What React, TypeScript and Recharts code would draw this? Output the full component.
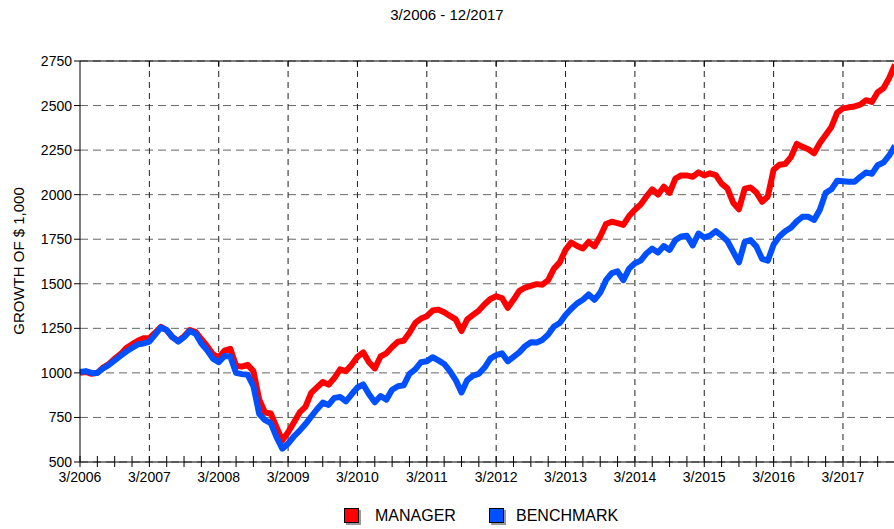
import React from 'react';
import { LineChart, Line, XAxis, YAxis, CartesianGrid, ReferenceLine } from 'recharts';

// monthly values, 3/2006 .. 12/2017
const manager = [
  1000, 1005, 995, 1000, 1030, 1050, 1080, 1105, 1140, 1160,
  1180, 1195, 1195, 1225, 1258, 1240, 1200, 1180, 1205, 1240, 1230, 1190,
  1150, 1105, 1085, 1125, 1135, 1040, 1035, 1045, 1010, 851, 778, 772,
  695, 621, 667, 722, 778, 809, 888, 919, 949, 934, 971, 1020,
  1010, 1045, 1090, 1115, 1060, 1025, 1092, 1110, 1145, 1175, 1180, 1225,
  1280, 1305, 1318, 1350, 1355, 1340, 1320, 1300, 1235, 1300, 1325, 1350,
  1385, 1415, 1430, 1420, 1365, 1410, 1460, 1478, 1488, 1498, 1495, 1520,
  1585, 1620, 1690, 1732, 1712, 1698, 1735, 1710, 1765, 1835, 1848, 1840,
  1830, 1880, 1915, 1945, 1990, 2030, 2000, 2045, 2010, 2090, 2108, 2108,
  2100, 2125, 2108, 2120, 2110, 2062, 2035, 1955, 1918, 2034, 2040, 2013,
  1960, 1990, 2140, 2168, 2172, 2211, 2285, 2268, 2255, 2232, 2290, 2335,
  2380, 2460, 2484, 2490, 2495, 2505, 2530, 2520, 2575, 2597, 2655, 2730,
];

const benchmark = [
  1005, 1010, 1000, 1000, 1025, 1045, 1070, 1095, 1120, 1140,
  1160, 1165, 1175, 1215, 1255, 1240, 1200, 1175, 1200, 1235, 1220, 1165,
  1127, 1080, 1060, 1095, 1092, 1000, 993, 990, 925, 770, 735, 718,
  640, 575, 603, 643, 676, 713, 754, 796, 833, 820, 860, 865,
  840, 880, 918, 935, 880, 835, 870, 850, 905, 925, 930, 995,
  1020, 1060, 1065, 1088, 1070, 1050, 1010, 960, 890, 960, 985, 995,
  1030, 1080, 1100, 1110, 1065, 1090, 1115, 1150, 1172, 1170, 1185, 1215,
  1260, 1280, 1325, 1360, 1390, 1410, 1440, 1410, 1450, 1520, 1560, 1570,
  1520, 1585, 1615, 1630, 1670, 1697, 1675, 1712, 1690, 1745, 1765, 1770,
  1715, 1782, 1760, 1770, 1795, 1770, 1740, 1680, 1620, 1735, 1745, 1710,
  1640, 1630, 1720, 1765, 1795, 1815, 1850, 1876, 1876, 1858, 1915, 2010,
  2030, 2078, 2075, 2072, 2072, 2100, 2125, 2117, 2165, 2180, 2220, 2275,
];

const yearLabels = [
  '3/2006', '3/2007', '3/2008', '3/2009', '3/2010', '3/2011',
  '3/2012', '3/2013', '3/2014', '3/2015', '3/2016', '3/2017',
];

const yTicks = [500, 750, 1000, 1250, 1500, 1750, 2000, 2250, 2500, 2750];

const data = manager.map((v, i) => ({ i, manager: v, benchmark: benchmark[i] }));
const lastIndex = manager.length - 1;
const quarterTicks = Array.from({ length: Math.floor(lastIndex / 3) + 1 }, (_, k) => k * 3);
const yearTicks = yearLabels.map((_, k) => k * 12);
const yMax = yTicks[yTicks.length - 1];

const FONT = 'Arial, "Liberation Sans", sans-serif';

// tick lines cross the axis, year labels under them
const QuarterTick = (props: any) => {
  const { x, y, payload } = props;
  const axisY = y - 8;
  const v = payload.value;
  const label = v % 12 === 0 ? yearLabels[v / 12] : null;
  return (
    <g>
      <line x1={x} x2={x} y1={axisY - 6} y2={axisY + 5} stroke="#000" />
      {label && (
        <text x={x} y={axisY + 20} textAnchor="middle" fontSize={14} fill="#000" fontFamily={FONT}>
          {label}
        </text>
      )}
    </g>
  );
};

// short solid tick hanging from the top frame at each year line
const TopMark = (props: any) => {
  const vb = props.viewBox;
  if (!vb) return null;
  return <line x1={vb.x} x2={vb.x} y1={vb.y} y2={vb.y + 6} stroke="#000" />;
};

const LegendItem = ({ color, label, left, textLeft }: { color: string; label: string; left: number; textLeft: number }) => (
  <>
    <div
      style={{
        position: 'absolute',
        left,
        top: 508,
        width: 13,
        height: 13,
        background: color,
        border: '1px solid #000',
        boxShadow: '2px 2px 0 #999',
      }}
    />
    <div style={{ position: 'absolute', left: textLeft, top: 507, fontSize: 16, lineHeight: '18px' }}>{label}</div>
  </>
);

export default function App() {
  return (
    <div
      style={{
        position: 'absolute',
        left: 0,
        top: 0,
        width: 894,
        height: 529,
        overflow: 'hidden',
        background: '#fff',
        fontFamily: FONT,
        color: '#000',
      }}
    >
      <div style={{ position: 'absolute', top: 6, width: 894, textAlign: 'center', fontSize: 15, lineHeight: '18px' }}>
        3/2006 - 12/2017
      </div>
      <div
        style={{
          position: 'absolute',
          left: 18,
          top: 261,
          transform: 'translate(-50%, -50%) rotate(-90deg)',
          whiteSpace: 'nowrap',
          fontSize: 15,
        }}
      >
        GROWTH OF $ 1,000
      </div>

      <LineChart width={896} height={529} data={data} margin={{ top: 61, right: 1, bottom: 37, left: 0 }}>
        <CartesianGrid vertical={false} stroke="#666" strokeDasharray="8 5" />
        <XAxis
          dataKey="i"
          type="number"
          domain={[0, lastIndex]}
          ticks={quarterTicks}
          interval={0}
          height={30}
          tickSize={6}
          tickMargin={2}
          tickLine={false}
          axisLine={{ stroke: '#000' }}
          tick={<QuarterTick />}
        />
        <YAxis
          width={80}
          domain={[500, yMax]}
          ticks={yTicks}
          interval={0}
          tickSize={6}
          tickMargin={2}
          tickLine={{ stroke: '#000' }}
          axisLine={{ stroke: '#000' }}
          tick={{ fill: '#000', fontSize: 14, fontFamily: FONT }}
        />
        {yearTicks.slice(1).map((t) => (
          <ReferenceLine
            key={t}
            x={t}
            stroke="#222"
            strokeDasharray="6 5"
            zIndex={-50}
            label={<TopMark />}
          />
        ))}
        <ReferenceLine y={yMax} stroke="#000" zIndex={-50} />
        <Line
          type="linear"
          dataKey="manager"
          stroke="#FF0000"
          strokeWidth={6}
          strokeLinejoin="round"
          dot={false}
          isAnimationActive={false}
        />
        <Line
          type="linear"
          dataKey="benchmark"
          stroke="#0050FF"
          strokeWidth={6}
          strokeLinejoin="round"
          dot={false}
          isAnimationActive={false}
        />
      </LineChart>

      <LegendItem color="#FF0000" label="MANAGER" left={344} textLeft={375} />
      <LegendItem color="#0050FF" label="BENCHMARK" left={489} textLeft={516} />
    </div>
  );
}
